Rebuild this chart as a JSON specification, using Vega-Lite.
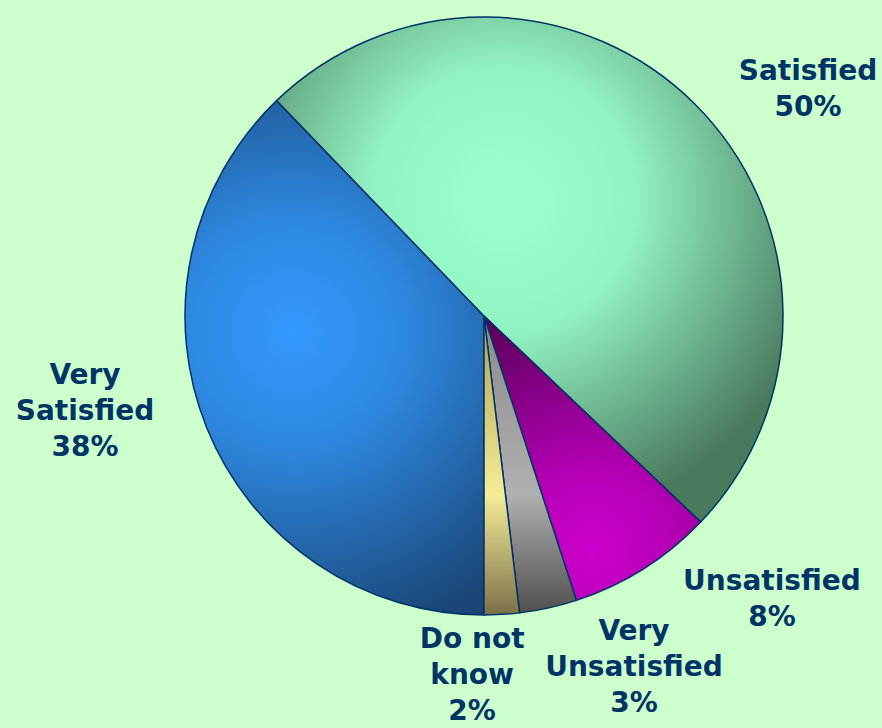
{
  "$schema": "https://vega.github.io/schema/vega-lite/v6.json",
  "width": 796,
  "height": 632,
  "autosize": {"type": "none"},
  "padding": {"left": 86, "top": 0, "right": 0, "bottom": 96},
  "background": "#ccffcc",
  "config": {"view": {"stroke": null}},
  "data": {
    "values": [
      {"idx": 1, "category": "Very Satisfied", "value": 37.8, "label": "Very\nSatisfied\n38%"},
      {"idx": 2, "category": "Satisfied", "value": 49.3, "label": "Satisfied\n50%"},
      {"idx": 3, "category": "Unsatisfied", "value": 7.9, "label": "Unsatisfied\n8%"},
      {"idx": 4, "category": "Very Unsatisfied", "value": 3.1, "label": "Very\nUnsatisfied\n3%"},
      {"idx": 5, "category": "Do not know", "value": 1.9, "label": "Do not\nknow\n2%"}
    ]
  },
  "transform": [
    {"stack": "value", "groupby": [], "sort": [{"field": "idx", "order": "ascending"}], "as": ["v0", "v1"]}
  ],
  "encoding": {
    "theta": {"field": "v0", "type": "quantitative", "scale": {"domain": [0, 100], "range": [3.141592653589793, 9.42477796076938]}},
    "theta2": {"field": "v1"}
  },
  "layer": [
    {
      "transform": [{"filter": "datum.category === 'Very Satisfied'"}],
      "mark": {"type": "arc", "radius": 299, "stroke": "#003366", "strokeWidth": 1.5,
        "fill": {"gradient": "radial", "x1": 0.42, "y1": 0.45, "r1": 0, "x2": 0.42, "y2": 0.45, "r2": 0.62,
          "stops": [{"offset": 0, "color": "#3399ff"}, {"offset": 0.35, "color": "#2e88e0"}, {"offset": 1, "color": "#1a4575"}]}}
    },
    {
      "transform": [{"filter": "datum.category === 'Satisfied'"}],
      "mark": {"type": "arc", "radius": 299, "stroke": "#003366", "strokeWidth": 1.5,
        "fill": {"gradient": "radial", "x1": 0.45, "y1": 0.36, "r1": 0, "x2": 0.45, "y2": 0.36, "r2": 0.65,
          "stops": [{"offset": 0, "color": "#9dffcf"}, {"offset": 0.4, "color": "#92f2c3"}, {"offset": 1, "color": "#4a7a5e"}]}}
    },
    {
      "transform": [{"filter": "datum.category === 'Unsatisfied'"}],
      "mark": {"type": "arc", "radius": 299, "stroke": "#003366", "strokeWidth": 1.5,
        "fill": {"gradient": "radial", "x1": 0.5, "y1": 0.82, "r1": 0, "x2": 0.5, "y2": 0.82, "r2": 0.85,
          "stops": [{"offset": 0, "color": "#cc00cc"}, {"offset": 0.3, "color": "#b800b8"}, {"offset": 1, "color": "#5e005e"}]}}
    },
    {
      "transform": [{"filter": "datum.category === 'Very Unsatisfied'"}],
      "mark": {"type": "arc", "radius": 299, "stroke": "#003366", "strokeWidth": 1.5,
        "fill": {"gradient": "linear", "x1": 0, "y1": 0, "x2": 0, "y2": 1,
          "stops": [{"offset": 0, "color": "#8a8a8a"}, {"offset": 0.6, "color": "#b0b0b0"}, {"offset": 1, "color": "#505050"}]}}
    },
    {
      "transform": [{"filter": "datum.category === 'Do not know'"}],
      "mark": {"type": "arc", "radius": 299, "stroke": "#003366", "strokeWidth": 1.5,
        "fill": {"gradient": "linear", "x1": 0, "y1": 0, "x2": 0, "y2": 1,
          "stops": [{"offset": 0, "color": "#b0a050"}, {"offset": 0.6, "color": "#f4ec98"}, {"offset": 1, "color": "#7a7048"}]}}
    },
    {
      "transform": [{"filter": "datum.category === 'Very Satisfied'"}],
      "mark": {"type": "text", "radius": 403.5, "thetaOffset": 1.4216, "font": "DejaVu Sans", "fontWeight": "bold", "fontSize": 28, "lineHeight": 36, "lineBreak": "\n", "align": "center", "baseline": "middle", "color": "#003366"},
      "encoding": {"theta2": null, "text": {"field": "label"}}
    },
    {
      "transform": [{"filter": "datum.category === 'Satisfied'"}],
      "mark": {"type": "text", "radius": 405.6, "thetaOffset": 1.692, "font": "DejaVu Sans", "fontWeight": "bold", "fontSize": 28, "lineHeight": 36, "lineBreak": "\n", "align": "center", "baseline": "middle", "color": "#003366"},
      "encoding": {"theta2": null, "text": {"field": "label"}}
    },
    {
      "transform": [{"filter": "datum.category === 'Unsatisfied'"}],
      "mark": {"type": "text", "radius": 392, "thetaOffset": -0.0145, "font": "DejaVu Sans", "fontWeight": "bold", "fontSize": 28, "lineHeight": 36, "lineBreak": "\n", "align": "center", "baseline": "middle", "color": "#003366"},
      "encoding": {"theta2": null, "text": {"field": "label"}}
    },
    {
      "transform": [{"filter": "datum.category === 'Very Unsatisfied'"}],
      "mark": {"type": "text", "radius": 349.8, "thetaOffset": -0.129, "font": "DejaVu Sans", "fontWeight": "bold", "fontSize": 28, "lineHeight": 36, "lineBreak": "\n", "align": "center", "baseline": "middle", "color": "#003366"},
      "encoding": {"theta2": null, "text": {"field": "label"}}
    },
    {
      "transform": [{"filter": "datum.category === 'Do not know'"}],
      "mark": {"type": "text", "radius": 324.2, "thetaOffset": 0.156, "font": "DejaVu Sans", "fontWeight": "bold", "fontSize": 28, "lineHeight": 36, "lineBreak": "\n", "align": "center", "baseline": "middle", "color": "#003366"},
      "encoding": {"theta2": null, "text": {"field": "label"}}
    }
  ]
}
